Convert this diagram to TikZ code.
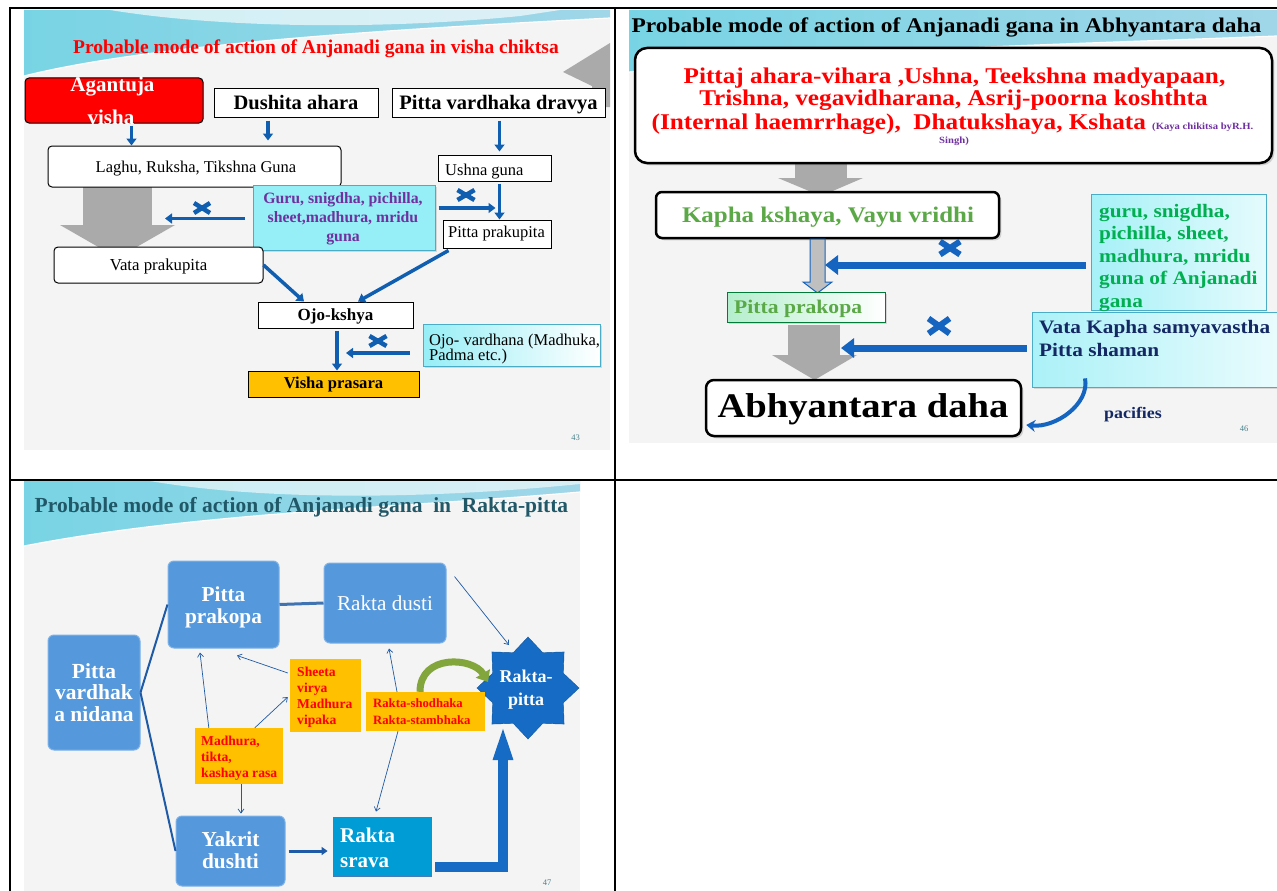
\documentclass[tikz,border=0pt]{standalone}
\usepackage{fontspec}
\setmainfont{Liberation Serif}
\newfontfamily\wideserif[FakeStretch=1.12]{Liberation Serif}
\usetikzlibrary{arrows.meta,shapes.geometric,shadows}
\newcommand\fsz[2]{\fontsize{#1}{#2}\selectfont}
\definecolor{slidebg}{RGB}{244,244,244}
\definecolor{arrblue}{RGB}{16,94,176}
\definecolor{arrblue2}{RGB}{20,100,192}
\definecolor{arrgray}{RGB}{170,170,170}
\definecolor{cyanbox}{RGB}{150,238,246}
\definecolor{cyanedge}{RGB}{75,172,198}
\definecolor{purp}{RGB}{112,48,160}
\definecolor{orng}{RGB}{255,192,0}
\definecolor{grnA}{RGB}{90,168,70}
\definecolor{grnB}{RGB}{0,176,80}
\definecolor{navy}{RGB}{20,40,100}
\definecolor{teal3}{RGB}{33,88,104}
\definecolor{pgnum}{RGB}{70,130,140}
\definecolor{bx3}{RGB}{86,152,220}
\definecolor{bx3e}{RGB}{125,178,232}
\definecolor{rsblue}{RGB}{0,156,214}
\definecolor{starblue}{RGB}{22,108,196}
\definecolor{lnblue}{RGB}{30,90,165}
\definecolor{arcgreen}{RGB}{130,165,60}
\definecolor{swA}{RGB}{120,212,228}
\definecolor{swB}{RGB}{160,214,232}
\definecolor{mint}{RGB}{180,238,205}
\newcommand\bx[7]{%
  \pgfmathsetmacro\bxw{#4-#2}\pgfmathsetmacro\bxh{#5-#3}%
  \pgfmathsetmacro\bxx{(#2+#4)/2}\pgfmathsetmacro\bxy{(#3+#5)/2}%
  \node[minimum width=\bxw pt,minimum height=\bxh pt,inner sep=0pt,#6] (#1) at (\bxx,\bxy) {#7};}
\newcommand\tx[5]{\node[anchor=base,inner sep=0pt,#4] (#1) at (#2,#3) {#5};}
\newcommand\mlines[6]{%
  \foreach \lnx [count=\k from 0] in {#6} {\node[anchor=base,inner sep=0pt,#5] (#1-\k) at (#2,{#3+\k*#4}) {\lnx};}}
\newcommand\xm[5]{\draw[#5] ({#1-#3/2},{#2-#4/2}) -- ({#1+#3/2},{#2+#4/2}) ({#1-#3/2},{#2+#4/2}) -- ({#1+#3/2},{#2-#4/2});}
\begin{document}
\begin{tikzpicture}[x=1pt,y=-1pt,
  wbox/.style={draw=black,line width=1pt,fill=white},
  rwbox/.style={wbox,rounded corners=4pt},
  barr/.style={draw=arrblue,line width=3.5pt,-{Triangle[width=10pt,length=7pt]}},
  barr2/.style={draw=arrblue2,line width=7pt,-{Triangle[width=19pt,length=13pt]}},
  barr3/.style={draw=lnblue,line width=3pt,-{Triangle[width=8pt,length=6pt]}},
  tarr/.style={draw=lnblue,line width=0.7pt,-{Straight Barb[width=6pt,length=4pt]}},
  xmk/.style={draw=arrblue,line width=4.5pt},
  xmk2/.style={draw=arrblue2,line width=6pt},
  b3/.style={draw=bx3e,line width=1pt,fill=bx3,rounded corners=6pt},
  obox/.style={fill=orng},
  t1f/.style={font=\fsz{16.5}{19}},
]
\useasboundingbox (0,0) rectangle (1277,891);
\fill[white] (0,0) rectangle (1277,891);
% ---------- slide backgrounds ----------
\fill[slidebg] (24,10) rectangle (610,450);
\fill[slidebg] (629,10) rectangle (1277,443);
\fill[slidebg] (24,481) rectangle (580,891);
% swooshes
\shade[left color=swA,right color=swB] (24,10) -- (610,10) -- (610,18) .. controls (420,28) and (160,42) .. (24,76) -- cycle;
\fill[white,opacity=0.65] (110,10) .. controls (220,28) and (380,30) .. (520,16) -- (560,10) -- cycle;
\draw[white,line width=1.2pt] (610,18) .. controls (420,28) and (160,42) .. (24,76);
\shade[left color=swA,right color=swB] (629,10) -- (1277,10) -- (1277,36) .. controls (1050,45) and (820,50) .. (629,72) -- cycle;
\draw[white,line width=1.2pt] (1277,36) .. controls (1050,45) and (820,50) .. (629,72);
\shade[left color=swA,right color=swB] (24,481) -- (580,481) -- (580,492) .. controls (400,508) and (200,512) .. (24,546) -- cycle;
\fill[white,opacity=0.6] (150,481) .. controls (260,500) and (420,500) .. (580,484) -- (580,481) -- cycle;
\draw[white,line width=1.2pt] (580,492) .. controls (400,508) and (200,512) .. (24,546);
% ---------- slide 1 ----------
\tx{t1}{316}{54}{font=\fsz{19.5}{23}\bfseries,text=red}{Probable mode of action of Anjanadi gana in visha chiktsa}
\fill[arrgray] (563,72) -- (610,43) -- (610,107) -- (592,107) -- (592,86) -- cycle;
\fill[arrgray] (83,186) rectangle (152,226);
\fill[arrgray] (60,225) -- (175,225) -- (117.5,258) -- cycle;
\bx{agantuja}{25}{78}{203}{123}{draw=black,line width=1pt,fill=red,rounded corners=4pt}{}
\tx{agt1}{112.5}{92}{font=\fsz{21}{25}\bfseries,text=white}{Agantuja}
\tx{agt2}{111}{124}{font=\fsz{21}{25}\bfseries,text=white}{visha}
\bx{dushita}{214}{88}{378}{117}{wbox}{}
\tx{tdush}{296}{110}{font=\fsz{20.5}{24}\bfseries}{Dushita ahara}
\bx{pvd}{392}{88}{605}{117}{wbox}{}
\tx{tpvd}{498.5}{110}{font=\fsz{20.5}{24}\bfseries}{Pitta vardhaka dravya}
\bx{laghu}{48}{146}{341}{187}{rwbox}{}
\tx{tlaghu}{196}{172}{t1f}{Laghu, Ruksha, Tikshna Guna}
\bx{ushna}{438}{155}{551}{181}{wbox}{}
\tx{tushna}{445}{175}{t1f,anchor=base west}{Ushna guna}
\bx{guru}{253}{185}{435}{250}{draw=cyanedge,line width=1pt,fill=cyanbox,drop shadow={opacity=0.25}}{}
\mlines{tguru}{343}{203}{19}{font=\fsz{15.8}{19}\bfseries,text=purp}{{Guru, snigdha, pichilla,},{sheet,madhura, mridu},{guna}}
\bx{pprak}{443}{220}{551}{248}{wbox}{}
\tx{tpprak}{496.5}{237}{t1f}{Pitta prakupita}
\bx{vata}{54}{247}{263}{283}{rwbox}{}
\tx{tvata}{158.5}{270}{font=\fsz{16.8}{19}}{Vata prakupita}
\bx{ojo}{258}{302}{413}{328}{wbox}{}
\tx{tojo}{335.5}{320}{font=\fsz{17}{20}\bfseries}{Ojo-kshya}
\bx{ojov}{423}{324}{600}{366}{draw=cyanedge,line width=1pt,left color=cyanbox,right color=white,drop shadow={opacity=0.25}}{}
\mlines{tojov}{429}{345}{15}{t1f,anchor=base west}{{Ojo- vardhana (Madhuka,},{Padma etc.)}}
\bx{visha}{248}{371}{419}{397}{wbox,fill=orng}{}
\tx{tvisha}{333.5}{388}{font=\fsz{16.6}{19}\bfseries}{Visha prasara}
\tx{pg43}{575.5}{440}{font=\fsz{8.5}{10},text=pgnum}{43}
% arrows slide 1
\path ([xshift=17.5pt]agantuja.south) coordinate (ag1);
\draw[barr,shorten <=2pt] (ag1) -- (ag1 |- laghu.north);
\path ([xshift=-28pt]dushita.south) coordinate (du1);
\draw[barr,shorten <=3pt,shorten >=5pt] (du1) -- (du1 |- laghu.north);
\path ([xshift=1pt]pvd.south) coordinate (pv1);
\draw[barr,shorten <=3pt,shorten >=3pt] (pv1) -- (pv1 |- ushna.north);
\path ([xshift=5pt]ushna.south) coordinate (us1);
\draw[barr,shorten <=2pt] (us1) -- (us1 |- pprak.north);
\path ([yshift=9.5pt]guru.east) coordinate (gu1);
\draw[barr,shorten <=3pt,shorten >=4pt] (gu1) -- (gu1 -| us1);
\path ([yshift=-1pt]guru.west) coordinate (gu2);
\coordinate (gA) at (165,218.5);
\draw[barr,shorten <=8pt] (gu2) -- (gA);
\draw[barr] (vata.east) -- ([xshift=-31.5pt]ojo.north);
\draw[barr] ([xshift=6pt,yshift=-2pt]pprak.south west) -- ([xshift=22.5pt]ojo.north);
\path ([xshift=1.5pt]ojo.south) coordinate (oj1);
\draw[barr,shorten <=2pt] (oj1) -- (oj1 |- visha.north);
\coordinate (ov) at (346,353);
\draw[barr,shorten <=13pt] ([yshift=-8pt]ojov.west) -- (ov);
\xm{202}{208}{16}{10}{xmk}
\xm{466}{195}{17}{10}{xmk}
\xm{378}{341}{17}{10}{xmk}
% ---------- slide 2 ----------
\tx{t2}{946.5}{33}{font=\wideserif\fsz{20.9}{25}\bfseries}{Probable mode of action of Anjanadi gana in Abhyantara daha}
\fill[arrgray] (795,160) rectangle (847,179);
\fill[arrgray] (778,178) -- (863,178) -- (821,196) -- cycle;
\bx{topbox}{635}{48}{1272}{163}{draw=black,line width=2.5pt,fill=white,rounded corners=12pt,drop shadow={opacity=0.3}}{}
\tx{top1}{954.5}{83}{font=\wideserif\fsz{22.5}{26}\bfseries,text=red}{Pittaj ahara-vihara ,Ushna, Teekshna madyapaan,}
\tx{top2}{953.5}{106}{font=\wideserif\fsz{22.5}{26}\bfseries,text=red}{Trishna, vegavidharana, Asrij-poorna koshthta}
\tx{top3}{952.5}{129}{font=\wideserif\fsz{22.5}{26}\bfseries,text=red}{(Internal haemrrhage),\ \ Dhatukshaya, Kshata {\fsz{9.5}{11}\color{purp} (Kaya chikitsa byR.H.}}
\tx{top4}{954}{143}{font=\wideserif\fsz{9.5}{11}\bfseries,text=purp}{Singh)}
\bx{kapha}{656}{192}{999}{238}{draw=black,line width=2.5pt,fill=white,rounded corners=6pt,drop shadow={opacity=0.3}}{}
\tx{tkapha}{828}{222}{font=\wideserif\fsz{22.3}{26}\bfseries,text=grnA}{Kapha kshaya, Vayu vridhi}
\filldraw[fill=arrgray!75,draw=arrblue2,line width=1pt] (810,239) -- (825,239) -- (825,282) -- (832,282) -- (817.5,293) -- (803,282) -- (810,282) -- cycle;
\bx{grbox}{1091}{194}{1266}{310}{draw=cyanedge,line width=0.8pt,left color=cyanbox!85,right color=cyanbox!25}{}
\mlines{tgr}{1099}{217}{22.6}{font=\wideserif\fsz{19}{22}\bfseries,text=grnB,anchor=base west}{{guru, snigdha,},{pichilla, sheet,},{madhura, mridu},{guna of Anjanadi},{gana}}
\bx{pp2}{727}{292}{885}{322}{draw=grnB!70!black,line width=0.8pt,left color=mint,right color=white,drop shadow={opacity=0.25}}{}
\tx{tpp2}{734}{313}{font=\wideserif\fsz{19.3}{22}\bfseries,text=grnA,anchor=base west}{Pitta prakopa}
\fill[arrgray] (788,325) rectangle (840,356);
\fill[arrgray] (772,355) -- (857,355) -- (814.5,380) -- cycle;
\bx{vbox}{1032}{312}{1282}{387}{draw=cyanedge,line width=0.8pt,left color=cyanbox!80,right color=cyanbox!20,drop shadow={opacity=0.25}}{}
\mlines{tvb}{1039}{333}{23}{font=\wideserif\fsz{19}{22}\bfseries,text=navy,anchor=base west}{{Vata Kapha samyavastha},{Pitta shaman}}
\bx{abh}{706}{380}{1021}{436}{draw=black,line width=2.5pt,fill=white,rounded corners=8pt,drop shadow={opacity=0.3}}{}
\tx{tabh}{863}{417}{font=\wideserif\fsz{34.5}{40}\bfseries}{Abhyantara daha}
\coordinate (a2r) at (825,265);
\draw[barr2] ([shift={(-5,13)}]grbox.west) -- (a2r);
\coordinate (a3r) at (841,348);
\draw[barr2] ([shift={(-5,-1.5)}]vbox.west) -- (a3r);
\xm{950}{248}{20}{13}{xmk2}
\xm{939}{326}{21}{15}{xmk2}
\draw[line width=4pt,draw=arrblue2,-{Stealth[width=12pt,length=9pt]}] ([shift={(-72,-9)}]vbox.south) .. controls +(5,25) and +(30,3) .. ([shift={(4,17)}]abh.east);
\tx{pac}{1133}{418}{font=\wideserif\fsz{16}{19}\bfseries,text=navy}{pacifies}
\tx{pg46}{1244}{431}{font=\fsz{8.5}{10},text=pgnum}{46}
% ---------- slide 3 ----------
\tx{t3}{301.5}{512}{font=\fsz{21.5}{25}\bfseries,text=teal3}{Probable mode of action of Anjanadi gana\ \ in\ \ Rakta-pitta}
\bx{pp3}{168}{561}{279}{648}{b3}{}
\mlines{tpp3}{223.5}{601}{22}{font=\fsz{21.3}{25}\bfseries,text=white}{{Pitta},{prakopa}}
\bx{rd}{324}{563}{446}{643}{b3}{}
\tx{trd}{385}{610}{font=\fsz{21.2}{25},text=white}{Rakta dusti}
\bx{nid}{48}{635}{140}{750}{b3}{}
\mlines{tnid}{94}{678}{21.5}{font=\fsz{21.5}{25}\bfseries,text=white}{{Pitta},{vardhak},{a nidana}}
\bx{yak}{176}{816}{285}{886}{b3}{}
\mlines{tyak}{230.5}{846}{22}{font=\fsz{21.3}{25}\bfseries,text=white}{{Yakrit},{dushti}}
\bx{rs}{333}{817}{431}{876}{draw=lnblue!80,line width=0.8pt,fill=rsblue}{}
\mlines{trs}{340}{842}{25}{font=\fsz{21}{25}\bfseries,text=white,anchor=base west}{{Rakta},{srava}}
\node[star,star points=8,star point ratio=1.33,minimum size=102pt,inner sep=0pt,fill=starblue,draw=starblue!80!black] (star) at (528,688) {};
\mlines{tstar}{526}{682}{23}{font=\fsz{18}{21}\bfseries,text=white}{{Rakta-},{pitta}}
\bx{sheeta}{290}{659}{361}{732}{obox}{}
\mlines{tsh}{297}{676}{16.3}{font=\fsz{13.6}{16}\bfseries,text=red,anchor=base west}{{Sheeta},{virya},{Madhura},{vipaka}}
\bx{madh}{195}{728}{283}{784}{obox}{}
\mlines{tmd}{201}{745}{16}{font=\fsz{13.6}{16}\bfseries,text=red,anchor=base west}{{Madhura,},{tikta,},{kashaya rasa}}
\bx{rsh}{366}{692}{485}{731}{obox}{}
\mlines{trsh}{373}{707}{17}{font=\fsz{12.7}{15}\bfseries,text=red,anchor=base west}{{Rakta-shodhaka},{Rakta-stambhaka}}
% connectors slide 3
\draw[draw=lnblue,line width=2pt] (nid.east) -- (pp3.west);
\draw[draw=lnblue,line width=2pt] (nid.east) -- (yak.west);
\draw[draw=lnblue!85,line width=3pt] (pp3.east) -- (rd.west);
\draw[tarr] ([shift={(8,14)}]rd.north east) -- ([shift={(-19,-43)}]star.center);
\draw[tarr] ([shift={(-2,-22.5)}]sheeta.west) -- ([shift={(13.5,7)}]pp3.south);
\draw[tarr] ([xshift=14pt]madh.north west) -- ([shift={(-23.5,4)}]pp3.south);
\draw[tarr] ([xshift=60pt]madh.north west) -- ([shift={(-2,1.5)}]sheeta.west);
\path ([xshift=2pt]madh.south) coordinate (md1);
\draw[tarr,shorten >=2pt] (md1) -- (md1 |- yak.north);
\draw[tarr] ([xshift=-28.5pt]rsh.north) -- ([shift={(4,5)}]rd.south);
\draw[tarr] ([xshift=-27.5pt]rsh.south) -- ([shift={(-6,-5)}]rs.north);
\draw[barr3,shorten >=5pt,shorten <=3pt] (yak.east) -- (yak.east -| rs.west);
\draw[line width=10pt,draw=starblue,-{Triangle[width=17pt,length=38pt]}] ([shift={(4,20.5)}]rs.east) -| ([shift={(-25,34)}]star.center);
\draw[line width=7pt,draw=arcgreen,-{Triangle[width=16pt,length=10pt]}] ([xshift=-5.5pt]rsh.north) .. controls +(0,-38) and +(-15,-25) .. ([shift={(-40,-6)}]star.center);
\tx{pg47}{547}{885}{font=\fsz{8.5}{10},text=pgnum}{47}
% ---------- table grid ----------
\draw[line width=2pt] (10,8) -- (1277,8);
\draw[line width=2pt] (10,7) -- (10,891);
\draw[line width=2pt] (615,8) -- (615,891);
\draw[line width=2pt] (10,479.5) -- (1277,479.5);
\end{tikzpicture}
\end{document}
